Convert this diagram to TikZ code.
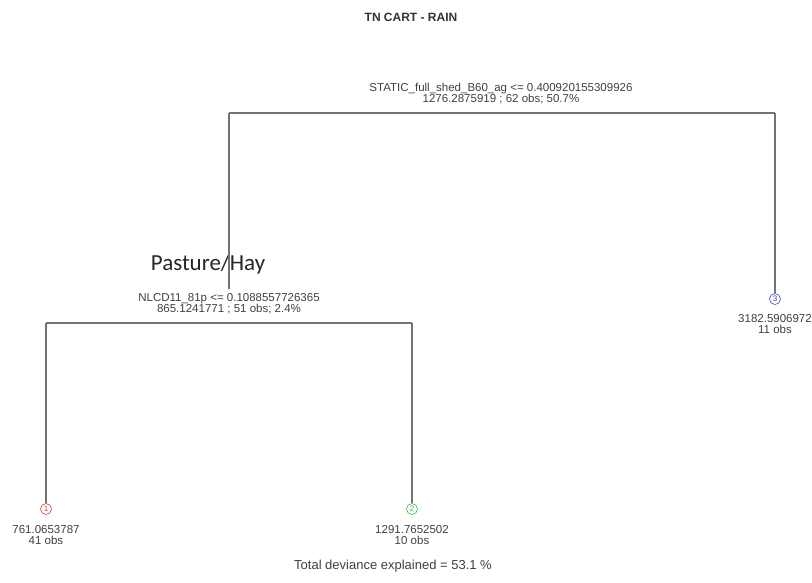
\documentclass[tikz,border=0pt]{standalone}
\usepackage{fontspec}
\setmainfont{Liberation Sans}
\newfontfamily\calib{Carlito}
\definecolor{leafred}{RGB}{220,60,60}
\definecolor{leafgreen}{RGB}{60,190,60}
\definecolor{leafblue}{RGB}{70,70,200}
\definecolor{edgegray}{RGB}{115,115,115}
\begin{document}
\begin{tikzpicture}[x=1pt,y=-1pt,
  edge/.style={draw=edgegray, line width=1.6pt},
  lab/.style={font=\fontsize{11.5}{11}\selectfont, text=black!75, align=center, inner sep=0pt},
  leaf/.style={circle, draw=#1, text=#1, font=\fontsize{8}{8}\selectfont, inner sep=0pt, minimum size=11pt, line width=0.6pt}]
\useasboundingbox (0,0) rectangle (812,582);
% title
\node[font=\bfseries\fontsize{12}{12}\selectfont, text=black!80] (title) at (411,17) {TN CART - RAIN};
% root split
\node[lab] (rootlab) at (501,94) {STATIC\_full\_shed\_B60\_ag <= 0.400920155309926\\1276.2875919 ; 62 obs; 50.7\%};
\coordinate (rL) at (229,113);
\coordinate (rR) at (775,113);
\draw[edge] (rL) -- (rR);
% second split
\node[font=\calib\fontsize{23}{24}\selectfont, text=black!85] (pasture) at (208,264) {Pasture/Hay};
\node[lab] (s2lab) at (229,304) {NLCD11\_81p <= 0.1088557726365\\865.1241771 ; 51 obs; 2.4\%};
\coordinate (s2top) at (229,289);
\coordinate (sL) at (46,323);
\coordinate (sR) at (412,323);
\draw[edge] (rL) -- (s2top);
\draw[edge] (sL) -- (sR);
% leaves
\node[leaf=leafblue] (l3) at (775,299) {3};
\node[lab] (l3lab) at (775,324) {3182.5906972\\11 obs};
\node[leaf=leafred] (l1) at (46,509) {1};
\node[lab] (l1lab) at (46,535) {761.0653787\\41 obs};
\node[leaf=leafgreen] (l2) at (412,509) {2};
\node[lab] (l2lab) at (412,535) {1291.7652502\\10 obs};
\draw[edge] (rR) -- (l3.north);
\draw[edge] (sL) -- (l1.north);
\draw[edge] (sR) -- (l2.north);
% footer
\node[font=\fontsize{13}{13}\selectfont, text=black!75] (footer) at (393,566) {Total deviance explained = 53.1 \%};
\end{tikzpicture}
\end{document}
